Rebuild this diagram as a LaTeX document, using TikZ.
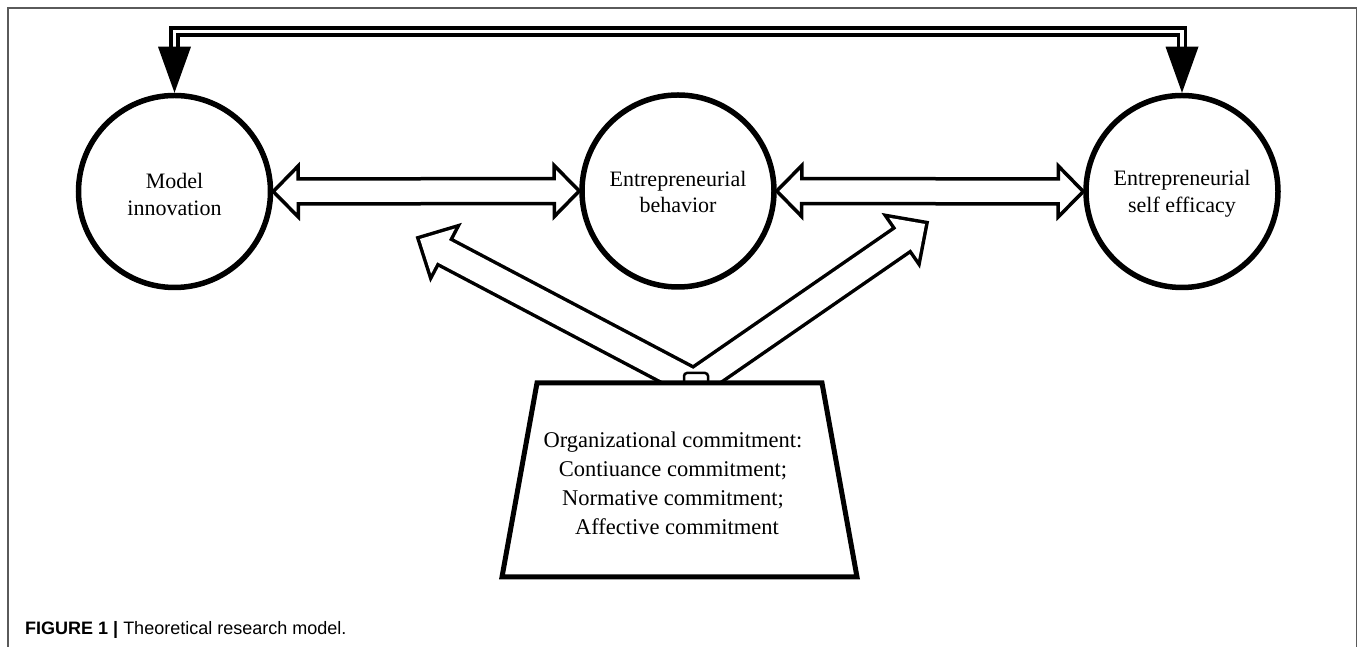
\documentclass[tikz,border=0pt]{standalone}
\usepackage{fontspec}
\setmainfont{Liberation Serif}
\newfontfamily\capfont{Liberation Sans}
\usetikzlibrary{calc}
\definecolor{framegray}{HTML}{5A5A5A}
\tikzset{
  circ/.style={circle, draw, line width=5.5pt, minimum size=192pt, inner sep=0pt},
  ctext/.style={align=center, inner sep=0pt, font=\fontsize{22}{26.5}\selectfont},
  blk/.style={line width=3.5pt, line join=miter},
  frameline/.style={draw=framegray, line width=1.3pt},
}
% double block arrow between #1 and #2
\newcommand\dblarrow[2]{%
  \coordinate (ha) at ($(#1)!25pt!(#2)$);
  \coordinate (hb) at ($(#2)!25pt!(#1)$);
  \draw[blk, fill=white] (#1) -- ($(ha)!25.5pt!90:(#2)$) -- ($(ha)!12.5pt!90:(#2)$)
    -- ($(hb)!12.5pt!-90:(#1)$) -- ($(hb)!25.5pt!-90:(#1)$) -- (#2)
    -- ($(hb)!25.5pt!90:(#1)$) -- ($(hb)!12.5pt!90:(#1)$)
    -- ($(ha)!12.5pt!-90:(#2)$) -- ($(ha)!25.5pt!-90:(#2)$) -- cycle;}
% single block arrow: #1 tail, #2 tip, #3 head base coordinate, #4 options
\newcommand\sglarrow[4]{%
  \path[#4] (#2) -- ($(#3)!25.5pt!90:(#2)$) -- ($(#3)!12.5pt!90:(#2)$)
    -- ($(#1)!12.5pt!90:(#2)$) -- ($(#1)!12.5pt!-90:(#2)$)
    -- ($(#3)!12.5pt!-90:(#2)$) -- ($(#3)!25.5pt!-90:(#2)$) -- cycle;}
\begin{document}
\begin{tikzpicture}[x=1pt, y=1pt]
\useasboundingbox (0,0) rectangle (1358,647);
% frame
\draw[frameline] (8,0) |- (1356.5,639) -- (1356.5,0);

% circles
\node[circ] (mi)  at (174.5,455.5) {};
\node[circ] (eb)  at (678,456)     {};
\node[circ] (ese) at (1182,455.5)  {};
\node[ctext] (mit)  at ($(mi)+(0,-3)$)    {Model\\innovation};
\node[ctext] (ebt)  at ($(eb)+(0,-1)$)    {Entrepreneurial\\behavior};
\node[ctext] (eset) at ($(ese)+(0,-2.5)$) {Entrepreneurial\\self efficacy};

% top double connector
\draw[line width=3.5pt, double=white, double distance=3.5pt, line join=miter]
  ($(mi.north)+(0,45)$) |- ($(ese.north)+(0,61)$) -- ($(ese.north)+(0,45)$);
\fill (mi.north) -- ++(-16.5,46) -- ++(33,0) -- cycle;
\fill (ese.north) -- ++(-16.5,46) -- ++(33,0) -- cycle;

% horizontal double block arrows
\dblarrow{mi.east}{eb.west}
\dblarrow{eb.east}{ese.west}

% diagonal arrows from the commitment box
\coordinate (ocl) at (693,264);
\coordinate (ocr) at (695,264);
\coordinate (lt) at (420,408);
\coordinate (rt) at (925,423);
\coordinate (lth) at ($(lt)!26pt!(ocl)$);
\coordinate (rth) at ($(rt)!26pt!(ocr)$);
\sglarrow{ocl}{lt}{lth}{draw, line width=7pt, line join=miter}
\sglarrow{ocr}{rt}{rth}{draw, line width=7pt, line join=miter}
\sglarrow{ocl}{lt}{lth}{fill=white}
\sglarrow{ocr}{rt}{rth}{fill=white}

% commitment box
\coordinate (tl) at (537,264);
\coordinate (tr) at (822,264);
\coordinate (br) at (857,70);
\coordinate (bl) at (502,70);
\draw[line width=5pt, fill=white, line join=miter] (tl) -- (tr) -- (br) -- (bl) -- cycle;
\node[align=center, font=\fontsize{22.5}{29}\selectfont, inner sep=0pt] (oc) at (673,163.5)
  {Organizational commitment:\\Contiuance commitment;\\Normative commitment;\\\hspace*{8pt}Affective commitment};
\draw[line width=2.5pt, rounded corners=3pt] (684,266) |- (708,274) -- (708,266);

% caption
\node[anchor=base west, inner sep=0pt, font=\capfont\fontsize{18}{21}\selectfont] (cap) at (25,12)
  {\textbf{FIGURE 1 |} Theoretical research model.};
\end{tikzpicture}
\end{document}
